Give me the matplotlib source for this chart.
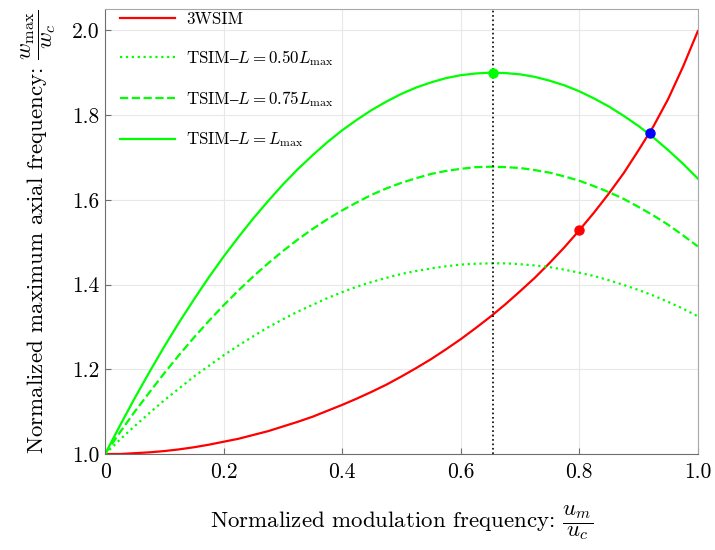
import matplotlib
matplotlib.use("Agg")
import matplotlib.pyplot as plt

plt.rcParams['font.family'] = ['cmr10', 'DejaVu Serif']
plt.rcParams['mathtext.fontset'] = 'cm'
plt.rcParams['axes.formatter.use_mathtext'] = True

# normalized modulation frequency u_m / u_c (values read every 0.025)
x = [0.000, 0.025, 0.050, 0.075, 0.100, 0.125, 0.150, 0.175, 0.200, 0.225,
     0.250, 0.275, 0.300, 0.325, 0.350, 0.375, 0.400, 0.425, 0.450, 0.475,
     0.500, 0.525, 0.550, 0.575, 0.600, 0.625, 0.650, 0.675, 0.700, 0.725,
     0.750, 0.775, 0.800, 0.825, 0.850, 0.875, 0.900, 0.925, 0.950, 0.975, 1.000]

# 3WSIM
wsim3 = [1.000, 1.000, 1.002, 1.004, 1.007, 1.011, 1.016, 1.022, 1.029, 1.036,
         1.045, 1.054, 1.065, 1.076, 1.088, 1.102, 1.116, 1.131, 1.147, 1.164,
         1.183, 1.203, 1.224, 1.247, 1.271, 1.297, 1.324, 1.353, 1.384, 1.416,
         1.451, 1.488, 1.528, 1.570, 1.615, 1.663, 1.717, 1.773, 1.838, 1.914, 1.998]
# TSIM, L = 0.50 Lmax
tsim_050 = [1.000, 1.034, 1.066, 1.097, 1.127, 1.155, 1.183, 1.208, 1.233, 1.256,
            1.278, 1.299, 1.318, 1.336, 1.352, 1.368, 1.382, 1.395, 1.406, 1.416,
            1.425, 1.432, 1.438, 1.443, 1.447, 1.449, 1.450, 1.450, 1.448, 1.445,
            1.441, 1.435, 1.428, 1.420, 1.410, 1.399, 1.387, 1.374, 1.359, 1.343, 1.325]
# TSIM, L = 0.75 Lmax
tsim_075 = [1.000, 1.051, 1.100, 1.146, 1.191, 1.234, 1.275, 1.314, 1.351, 1.386,
            1.419, 1.450, 1.479, 1.506, 1.531, 1.554, 1.575, 1.594, 1.612, 1.627,
            1.640, 1.651, 1.661, 1.668, 1.673, 1.677, 1.678, 1.677, 1.675, 1.670,
            1.664, 1.655, 1.645, 1.632, 1.618, 1.602, 1.583, 1.563, 1.541, 1.516, 1.490]
# TSIM, L = Lmax
tsim_100 = [1.000, 1.067, 1.132, 1.194, 1.254, 1.311, 1.365, 1.417, 1.466, 1.512,
            1.556, 1.597, 1.636, 1.672, 1.705, 1.736, 1.764, 1.789, 1.812, 1.832,
            1.850, 1.865, 1.877, 1.887, 1.894, 1.898, 1.900, 1.899, 1.896, 1.890,
            1.881, 1.870, 1.856, 1.839, 1.820, 1.798, 1.774, 1.747, 1.717, 1.685, 1.650]

x_opt = 0.655          # optimum modulation frequency
peak_pt = (0.655, 1.900)
red_pt = (0.80, 1.528)
cross_pt = (0.919, 1.758)

xticks = [0, 0.2, 0.4, 0.6, 0.8, 1.0]
xticklabels = ['0', '0.2', '0.4', '0.6', '0.8', '1.0']
yticks = [1.0, 1.2, 1.4, 1.6, 1.8, 2.0]
yticklabels = ['1.0', '1.2', '1.4', '1.6', '1.8', '2.0']

fig = plt.figure(figsize=(7.15, 5.5), dpi=100)
ax = fig.add_axes([0.147, 0.1745, 0.829, 0.809])

green = '#00ff00'
ax.plot(x, wsim3, color='red', lw=1.6, label='3WSIM')
ax.plot(x, tsim_050, color=green, lw=1.6, ls=':', label=r'TSIM$\mathrm{–}L = 0.50L_{\max}$')
ax.plot(x, tsim_075, color=green, lw=1.6, ls='--', label=r'TSIM$\mathrm{–}L = 0.75L_{\max}$')
ax.plot(x, tsim_100, color=green, lw=1.6, ls='-', label=r'TSIM$\mathrm{–}L = L_{\max}$')

ax.axvline(x_opt, color='black', lw=1.2, ls=':')
ax.plot(*peak_pt, 'o', color=green, ms=6.5)
ax.plot(*red_pt, 'o', color='red', ms=6.5)
ax.plot(*cross_pt, 'o', color='blue', ms=6.5)

ax.set_xlim(0, 1)
ax.set_ylim(1.0, 2.05)
ax.set_xticks(xticks)
ax.set_xticklabels(xticklabels)
ax.set_yticks(yticks)
ax.set_yticklabels(yticklabels)
ax.tick_params(direction='in', length=4, width=0.8, color='#6e6e6e',
               labelsize=15.5, pad=4)
ax.tick_params(axis='x', pad=6)
ax.grid(True, color='#e8e8e8', lw=0.8)
ax.set_axisbelow(True)
for side in ['bottom', 'left']:
    ax.spines[side].set_color('#6e6e6e')
for side in ['top', 'right']:
    ax.spines[side].set_color('#a8a8a8')

ax.set_xlabel(r'Normalized modulation frequency: $\dfrac{u_m}{u_c}$',
              fontsize=16.5, labelpad=15)
ax.set_ylabel(r'Normalized maximum axial frequency: $\dfrac{w_{\max}}{w_c}$',
              fontsize=16.5, labelpad=10)

ax.legend(loc='upper left', frameon=False, fontsize=12.2, handlelength=3.25,
          labelspacing=1.25, borderaxespad=0.5, handletextpad=0.65,
          bbox_to_anchor=(0.0, 1.028))

fig.savefig('out.png', dpi=100)
